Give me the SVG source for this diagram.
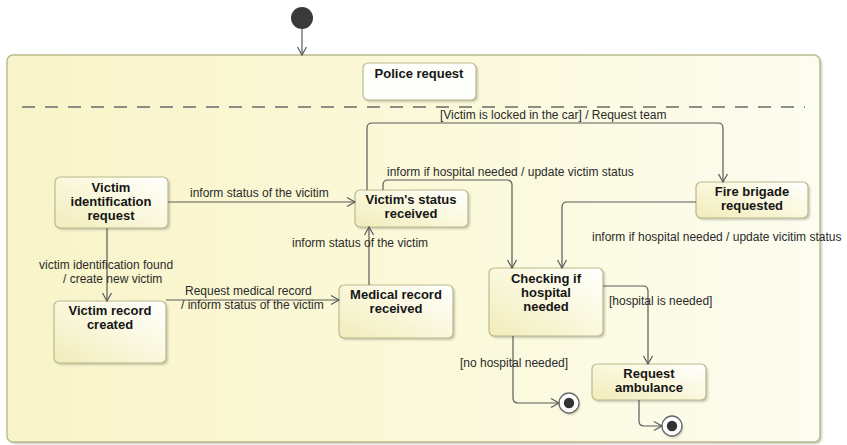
<svg xmlns="http://www.w3.org/2000/svg" width="847" height="445" viewBox="0 0 847 445">
  <style>
    .node { fill: url(#nodeFill); stroke: #b9b98c; stroke-width: 1.2; }
    .plain { fill: #fefefa; stroke: #b9b98c; stroke-width: 1.2; }
    .shadow { fill: #8a8a7a; opacity: 0.45; filter: url(#soft); }
    .title { font-family: "Liberation Sans", Arial, sans-serif; font-weight: bold; font-size: 13px; fill: #151515; text-anchor: middle; }
    .label { font-family: "Liberation Sans", Arial, sans-serif; font-size: 12px; fill: #2a2a2a; }
    .edge { fill: none; stroke: #5a5a5a; stroke-width: 1.2; marker-end: url(#open); }
  </style>
  <defs>
    <linearGradient id="frameFill" x1="0" y1="0" x2="1" y2="0">
      <stop offset="0" stop-color="#f8f4c9"/>
      <stop offset="0.55" stop-color="#fbf9da"/>
      <stop offset="1" stop-color="#fcfcf0"/>
    </linearGradient>
    <linearGradient id="nodeFill" x1="0" y1="1" x2="1" y2="0">
      <stop offset="0" stop-color="#f1ecba"/>
      <stop offset="0.6" stop-color="#fbf9e2"/>
      <stop offset="1" stop-color="#ffffff"/>
    </linearGradient>
    <filter id="soft" x="-10%" y="-10%" width="130%" height="130%">
      <feGaussianBlur stdDeviation="1"/>
    </filter>
    <marker id="open" markerUnits="userSpaceOnUse" markerWidth="12" markerHeight="12" viewBox="-10 -6 12 12" refX="0" refY="0" orient="auto">
      <path d="M-8,-4.5 L0,0 L-8,4.5" fill="none" stroke="#5a5a5a" stroke-width="1.2"/>
    </marker>
  </defs>

  <rect width="847" height="445" fill="#ffffff"/>

  <!-- composite state frame -->
  <g id="frame">
    <rect x="9" y="57" width="813" height="387" rx="6" class="shadow"/>
    <rect x="7" y="55" width="813" height="387" rx="6" fill="url(#frameFill)" stroke="#b9b98c" stroke-width="1.4"/>
    <line x1="22" y1="107" x2="805" y2="107" stroke="#6a6a6a" stroke-width="1.3" stroke-dasharray="13,10"/>
  </g>

  <!-- initial pseudo-state -->
  <g id="initial">
    <circle cx="302" cy="18" r="11" fill="#3a3a3a"/>
  </g>

  <g id="police-request">
    <rect x="365" y="65" width="113" height="37" rx="5" class="shadow"/>
    <rect x="363" y="63" width="113" height="37" rx="5" class="plain"/>
    <text x="419" y="78" class="title">Police request</text>
  </g>

  <g id="victim-identification-request">
    <rect x="57" y="179" width="113" height="51" rx="5" class="shadow"/>
    <rect x="55" y="177" width="113" height="51" rx="5" class="node"/>
    <text x="111" y="192" class="title">Victim</text>
    <text x="111" y="206" class="title">identification</text>
    <text x="111" y="220" class="title">request</text>
  </g>

  <g id="victim-status-received">
    <rect x="357" y="192" width="113" height="37" rx="5" class="shadow"/>
    <rect x="355" y="190" width="113" height="37" rx="5" class="node"/>
    <text x="411" y="204" class="title">Victim's status</text>
    <text x="411" y="218" class="title">received</text>
  </g>

  <g id="fire-brigade-requested">
    <rect x="698" y="184" width="112" height="36" rx="5" class="shadow"/>
    <rect x="696" y="182" width="112" height="36" rx="5" class="node"/>
    <text x="752" y="196" class="title">Fire brigade</text>
    <text x="752" y="210" class="title">requested</text>
  </g>

  <g id="victim-record-created">
    <rect x="56" y="303" width="112" height="62" rx="5" class="shadow"/>
    <rect x="54" y="301" width="112" height="62" rx="5" class="node"/>
    <text x="110" y="315" class="title">Victim record</text>
    <text x="110" y="329" class="title">created</text>
  </g>

  <g id="medical-record-received">
    <rect x="341" y="287" width="114" height="53" rx="5" class="shadow"/>
    <rect x="339" y="285" width="114" height="53" rx="5" class="node"/>
    <text x="396" y="299" class="title">Medical record</text>
    <text x="396" y="313" class="title">received</text>
  </g>

  <g id="checking-hospital">
    <rect x="491" y="270" width="114" height="68" rx="5" class="shadow"/>
    <rect x="489" y="268" width="114" height="68" rx="5" class="node"/>
    <text x="546" y="283" class="title">Checking if</text>
    <text x="546" y="297" class="title">hospital</text>
    <text x="546" y="311" class="title">needed</text>
  </g>

  <g id="request-ambulance">
    <rect x="594" y="366" width="114" height="36" rx="5" class="shadow"/>
    <rect x="592" y="364" width="114" height="36" rx="5" class="node"/>
    <text x="649" y="378" class="title">Request</text>
    <text x="649" y="392" class="title">ambulance</text>
  </g>

  <g id="final-1">
    <circle cx="570" cy="405" r="10" class="shadow"/>
    <circle cx="569" cy="403" r="10" fill="#ffffff" stroke="#6a6a6a" stroke-width="1.3"/>
    <circle cx="569" cy="403" r="5.2" fill="#333333"/>
  </g>

  <g id="final-2">
    <circle cx="673" cy="428" r="10" class="shadow"/>
    <circle cx="672" cy="426" r="10" fill="#ffffff" stroke="#6a6a6a" stroke-width="1.3"/>
    <circle cx="672" cy="426" r="5.2" fill="#333333"/>
  </g>

  <!-- transitions -->
  <g id="connectors">
    <path class="edge" d="M302,29 V55"/>
    <path class="edge" d="M168,202 H355"/>
    <path class="edge" d="M107,228 V301"/>
    <path class="edge" d="M166,300 H339"/>
    <path class="edge" d="M369,285 V227"/>
    <path class="edge" d="M367,190 V128 Q367,123 372,123 H718 Q723,123 723,128 V182"/>
    <path class="edge" d="M383,190 V185 Q383,180 388,180 H507 Q512,180 512,185 V268"/>
    <path class="edge" d="M696,202 H567 Q562,202 562,207 V268"/>
    <path class="edge" d="M603,286 H643 Q648,286 648,291 V364"/>
    <path class="edge" d="M513,336 V398 Q513,403 518,403 H559"/>
    <path class="edge" d="M639,400 V421 Q639,426 644,426 H662"/>

    <text x="440" y="119" class="label">[Victim is locked in the car] / Request team</text>
    <text x="387" y="176" class="label">inform if hospital needed / update victim status</text>
    <text x="190" y="197" class="label">inform status of the vicitim</text>
    <text x="292" y="247" class="label">inform status of the victim</text>
    <text x="592" y="241" class="label">inform if hospital needed / update vicitim status</text>
    <text x="39" y="269" class="label">victim identification found</text>
    <text x="63" y="283" class="label">/ create new  victim</text>
    <text x="185" y="295" class="label">Request medical record</text>
    <text x="181" y="309" class="label">/ inform status of the victim</text>
    <text x="609" y="305" class="label">[hospital is needed]</text>
    <text x="460" y="367" class="label">[no hospital needed]</text>
  </g>
</svg>
